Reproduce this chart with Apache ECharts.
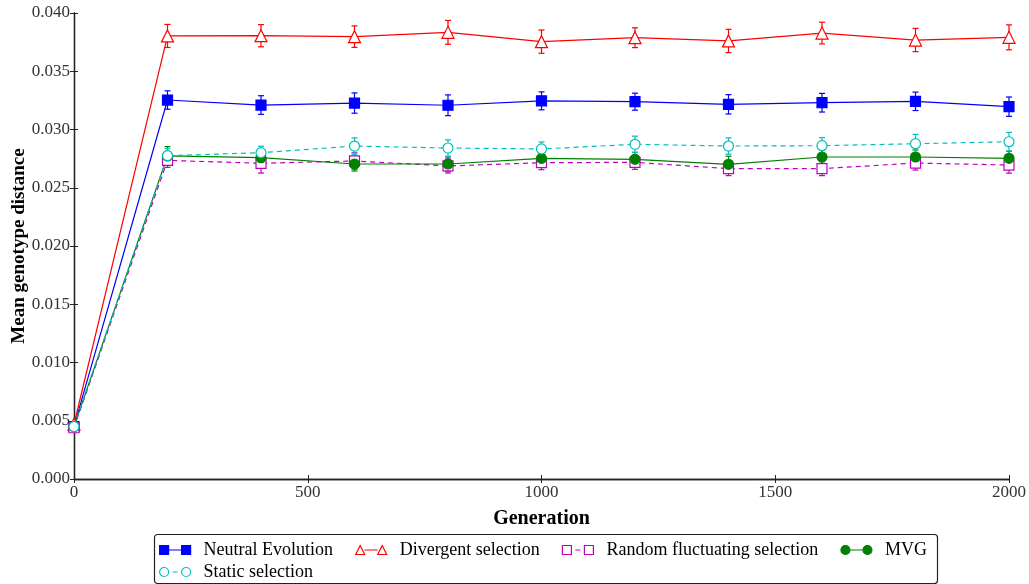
<!DOCTYPE html>
<html>
<head>
<meta charset="utf-8">
<script src="https://cdn.jsdelivr.net/npm/echarts@6/dist/echarts.min.js"></script>
<style>html,body{margin:0;padding:0;background:#fff;}#c{width:1029px;height:584px;}</style>
</head>
<body>
<div id="c"></div>
<script>
const generations = [0, 200, 400, 600, 800, 1000, 1200, 1400, 1600, 1800, 2000];
const xTicks = [0, 500, 1000, 1500, 2000];
const neutral = [0.0045, 0.03253, 0.03210, 0.03227, 0.03208, 0.03246, 0.03239, 0.03216, 0.03230, 0.03242, 0.03196];
const neutralErr = [0.0001, 0.00079, 0.0008, 0.00087, 0.00089, 0.00077, 0.00073, 0.00083, 0.0008, 0.00079, 0.00083];
const divergent = [0.0047, 0.03803, 0.03805, 0.03797, 0.03834, 0.03754, 0.03788, 0.03760, 0.03828, 0.03768, 0.03791];
const divergentErr = [0.0001, 0.00099, 0.00095, 0.00092, 0.00102, 0.001, 0.00085, 0.001, 0.00093, 0.001, 0.00107];
const randomFluct = [0.0044, 0.02735, 0.02710, 0.02730, 0.02687, 0.02715, 0.02718, 0.02664, 0.02664, 0.02712, 0.02695];
const randomFluctErr = [0.0001, 0.0006, 0.00084, 0.0007, 0.0006, 0.0006, 0.0006, 0.0006, 0.0006, 0.0006, 0.0007];
const mvg = [0.0045, 0.02773, 0.02758, 0.02704, 0.02704, 0.02752, 0.02744, 0.02701, 0.02764, 0.02764, 0.02753];
const mvgErr = [0.0001, 0.0008, 0.0005, 0.0006, 0.0006, 0.0005, 0.0006, 0.0007, 0.0006, 0.0006, 0.0006];
const staticSel = [0.0045, 0.02775, 0.02801, 0.02858, 0.02841, 0.02833, 0.02873, 0.02858, 0.02861, 0.02878, 0.02895];
const staticErr = [0.0001, 0.0006, 0.00055, 0.0007, 0.0007, 0.0006, 0.0007, 0.0007, 0.0007, 0.0008, 0.0008];

const FONT = 'Liberation Serif';

// legend icon paths (marker - line - marker), bbox 31 x 9
const SQ = 'M0,0 L9,0 L9,9 L0,9 Z M22,0 L31,0 L31,9 L22,9 Z';
const TRI = 'M0,9 L4.5,0 L9,9 Z M22,9 L26.5,0 L31,9 Z';
const CIR = 'M0,4.5 A4.5,4.5 0 1,1 9,4.5 A4.5,4.5 0 1,1 0,4.5 Z M22,4.5 A4.5,4.5 0 1,1 31,4.5 A4.5,4.5 0 1,1 22,4.5 Z';
const SOLID = ' M9,4.5 L22,4.5';
const DASH = ' M13,4.5 L18,4.5';

const defs = [
  {name: 'Neutral Evolution', vals: neutral, errs: neutralErr, color: '#0000ff', symbol: 'rect', size: 10, filled: true, dash: 'solid', icon: SQ + SOLID},
  {name: 'Divergent selection', vals: divergent, errs: divergentErr, color: '#ff0000', symbol: 'triangle', size: 12, filled: false, dash: 'solid', icon: TRI + SOLID},
  {name: 'Random fluctuating selection', vals: randomFluct, errs: randomFluctErr, color: '#bf00bf', symbol: 'rect', size: 10, filled: false, dash: [5, 4], icon: SQ + DASH},
  {name: 'MVG', vals: mvg, errs: mvgErr, color: '#008000', symbol: 'circle', size: 10, filled: true, dash: 'solid', icon: CIR + SOLID},
  {name: 'Static selection', vals: staticSel, errs: staticErr, color: '#00bfbf', symbol: 'circle', size: 10, filled: false, dash: [5, 4], icon: CIR + DASH}
];

const series = [];
defs.forEach(function (d) {
  series.push({
    type: 'custom',
    name: d.name + ' (error)',
    xAxisIndex: 0, yAxisIndex: 0,
    z: 2,
    silent: true,
    data: generations.map(function (g, i) { return [g, d.vals[i] - d.errs[i], d.vals[i] + d.errs[i]]; }),
    renderItem: function (params, api) {
      const lo = api.coord([api.value(0), api.value(1)]);
      const hi = api.coord([api.value(0), api.value(2)]);
      const cw = 3;
      const st = {stroke: d.color, lineWidth: 1.2};
      return {
        type: 'group',
        children: [
          {type: 'line', shape: {x1: lo[0], y1: lo[1], x2: hi[0], y2: hi[1]}, style: st},
          {type: 'line', shape: {x1: lo[0] - cw, y1: lo[1], x2: lo[0] + cw, y2: lo[1]}, style: st},
          {type: 'line', shape: {x1: hi[0] - cw, y1: hi[1], x2: hi[0] + cw, y2: hi[1]}, style: st}
        ]
      };
    },
    encode: {x: 0, y: [1, 2]}
  });
  series.push({
    type: 'line',
    name: d.name,
    xAxisIndex: 0, yAxisIndex: 0,
    z: 3,
    data: generations.map(function (g, i) { return [g, d.vals[i]]; }),
    symbol: d.symbol,
    symbolSize: d.size,
    showAllSymbol: true,
    color: d.color,
    lineStyle: {color: d.color, width: 1.2, type: d.dash},
    itemStyle: {color: d.filled ? d.color : '#ffffff', borderColor: d.color, borderWidth: 1.2},
    emphasis: {disabled: true},
    animation: false
  });
});

function legendItem(d) {
  return {
    name: d.name,
    icon: 'path://' + d.icon,
    itemStyle: {color: d.filled ? d.color : '#ffffff', borderColor: d.color, borderWidth: 1.2},
    lineStyle: {width: 0, opacity: 0}
  };
}

const legendText = {fontFamily: FONT, fontSize: 18, color: '#000', padding: [0, 0, 0, 8]};

const chart = echarts.init(document.getElementById('c'), null, {renderer: 'canvas'});
chart.setOption({
  animation: false,
  backgroundColor: '#fff',
  grid: {left: 74, right: 20, top: 13, bottom: 105, show: false, containLabel: false, outerBoundsMode: 'none'},
  xAxis: [
    {
      type: 'value', min: 0, max: 2000, interval: 500, position: 'bottom',
      name: 'Generation', nameLocation: 'middle', nameGap: 30, nameMoveOverlap: false,
      nameTextStyle: {fontFamily: FONT, fontSize: 20, fontWeight: 'bold', color: '#000'},
      axisLine: {show: true, lineStyle: {color: '#222', width: 1.3}},
      axisTick: {show: true, inside: true, length: 4, lineStyle: {color: '#222'}},
      axisLabel: {fontFamily: FONT, fontSize: 17, color: '#333', margin: 5,
        formatter: function (v) { return xTicks.indexOf(v) >= 0 ? String(v) : ''; }},
      splitLine: {show: false}
    },
    {
      type: 'value', min: 0, max: 2000, interval: 500, position: 'top',
      axisLine: {show: true, lineStyle: {color: '#222', width: 1.3}},
      axisTick: {show: true, inside: true, length: 4, lineStyle: {color: '#222'}},
      axisLabel: {show: false}, splitLine: {show: false}
    }
  ],
  yAxis: [
    {
      type: 'value', min: 0, max: 0.04, interval: 0.005, position: 'left',
      name: 'Mean genotype distance', nameLocation: 'middle', nameGap: 45, nameMoveOverlap: false,
      nameTextStyle: {fontFamily: FONT, fontSize: 19, fontWeight: 'bold', color: '#000'},
      axisLine: {show: true, lineStyle: {color: '#222', width: 1.3}},
      axisTick: {show: true, inside: true, length: 4, lineStyle: {color: '#222'}},
      axisLabel: {fontFamily: FONT, fontSize: 17, color: '#333', margin: 4,
        formatter: function (v) { return v.toFixed(3); }},
      splitLine: {show: false}
    },
    {
      type: 'value', min: 0, max: 0.04, interval: 0.005, position: 'right',
      axisLine: {show: true, lineStyle: {color: '#222', width: 1.3}},
      axisTick: {show: true, inside: true, length: 4, lineStyle: {color: '#222'}},
      axisLabel: {show: false}, splitLine: {show: false}
    }
  ],
  legend: [
    {
      data: defs.slice(0, 4).map(legendItem),
      left: 159, top: 541, padding: 0, itemWidth: 31, itemHeight: 9, itemGap: 22,
      textStyle: legendText, selectedMode: false
    },
    {
      data: defs.slice(4).map(legendItem),
      left: 159, top: 563, padding: 0, itemWidth: 31, itemHeight: 9,
      textStyle: legendText, selectedMode: false
    }
  ],
  graphic: [
    {type: 'rect', left: 152, top: 532, shape: {width: 783, height: 49, r: 3},
      style: {fill: 'none', stroke: '#222', lineWidth: 1.2}, z: -1}
  ],
  series: series
});
</script>
</body>
</html>
